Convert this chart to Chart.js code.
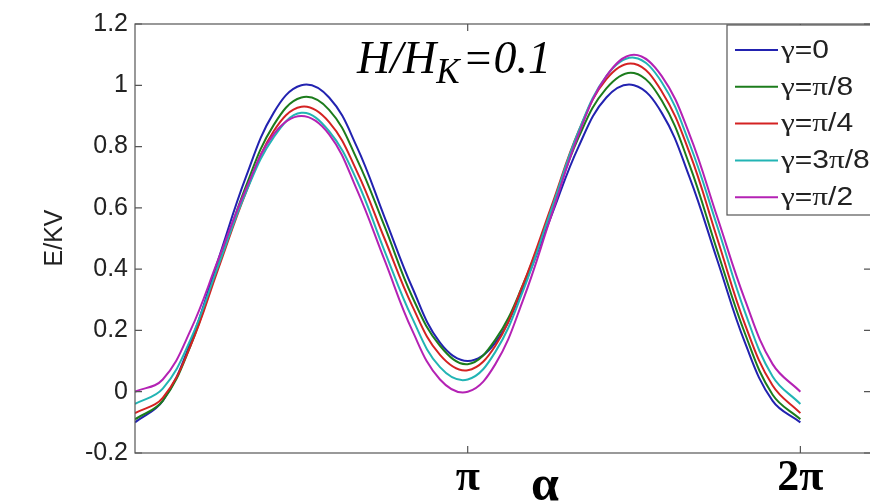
<!DOCTYPE html>
<html>
<head>
<meta charset="utf-8">
<script src="https://cdn.jsdelivr.net/npm/chart.js@4.4.0/dist/chart.umd.min.js"></script>
<style>
  html, body { margin: 0; padding: 0; background: #fff; overflow: hidden; width: 870px; height: 504px; }
  #wrap { width: 880px; height: 504px; }
</style>
</head>
<body>
<div id="wrap"><canvas id="energyChart" width="880" height="504"></canvas></div>
<script>
// alpha in radians, every 15 degrees from 0 to 2*pi
const alpha = [0, 0.262, 0.524, 0.785, 1.047, 1.309, 1.571, 1.833, 2.094, 2.356, 2.618, 2.880,
               3.142, 3.403, 3.665, 3.927, 4.189, 4.451, 4.712, 4.974, 5.236, 5.498, 5.760, 6.021, 6.283];

// E/KV, one array per gamma
const eGamma0    = [-0.10, -0.03, 0.16, 0.43, 0.70, 0.91, 1.00, 0.96, 0.80, 0.57, 0.34, 0.16, 0.10,
                    0.16, 0.34, 0.57, 0.80, 0.96, 1.00, 0.91, 0.70, 0.43, 0.16, -0.03, -0.10];
const eGammaPi8  = [-0.09, -0.03, 0.15, 0.41, 0.67, 0.87, 0.96, 0.92, 0.76, 0.54, 0.31, 0.15, 0.09,
                    0.17, 0.35, 0.59, 0.83, 0.99, 1.04, 0.95, 0.74, 0.46, 0.19, -0.01, -0.09];
const eGammaPi4  = [-0.07, -0.02, 0.15, 0.40, 0.65, 0.85, 0.93, 0.88, 0.72, 0.50, 0.28, 0.12, 0.07,
                    0.15, 0.35, 0.60, 0.85, 1.02, 1.07, 0.98, 0.78, 0.50, 0.22, 0.02, -0.07];
const eGamma3Pi8 = [-0.04, 0.01, 0.17, 0.41, 0.65, 0.83, 0.91, 0.85, 0.69, 0.46, 0.24, 0.08, 0.04,
                    0.13, 0.33, 0.59, 0.85, 1.03, 1.09, 1.01, 0.81, 0.54, 0.26, 0.05, -0.04];
const eGammaPi2  = [0.00, 0.04, 0.20, 0.43, 0.66, 0.84, 0.90, 0.84, 0.66, 0.43, 0.20, 0.04, 0.00,
                    0.09, 0.30, 0.57, 0.84, 1.03, 1.10, 1.03, 0.84, 0.57, 0.30, 0.09, 0.00];

const gammaLabels = ['γ=0', 'γ=π/8', 'γ=π/4', 'γ=3π/8', 'γ=π/2'];
const lineColors = ['#2222b0', '#1c7c1c', '#d42222', '#22b4b4', '#b422b4'];
const xTickValues = [Math.PI, 2 * Math.PI];
const xTickLabels = ['π', '2π'];

const series = [eGamma0, eGammaPi8, eGammaPi4, eGamma3Pi8, eGammaPi2];

// axes box with inward ticks (matlab style)
const framePlugin = {
    id: 'frame',
    afterDatasetsDraw(chart) {
        const { ctx, chartArea: a, scales: { x, y } } = chart;
        ctx.save();
        ctx.strokeStyle = '#555';
        ctx.lineWidth = 1.2;
        ctx.strokeRect(a.left, a.top, a.right - a.left, a.bottom - a.top);
        ctx.beginPath();
        y.ticks.forEach(t => {
            const py = y.getPixelForValue(t.value);
            ctx.moveTo(a.left, py); ctx.lineTo(a.left + 7, py);
            ctx.moveTo(a.right, py); ctx.lineTo(a.right - 7, py);
        });
        x.ticks.forEach(t => {
            const px = x.getPixelForValue(t.value);
            ctx.moveTo(px, a.bottom); ctx.lineTo(px, a.bottom - 7);
            ctx.moveTo(px, a.top); ctx.lineTo(px, a.top + 7);
        });
        ctx.stroke();
        ctx.restore();
    }
};

// greek letters in serif, the rest in sans; text is a bit stretched in the original
function drawMixed(ctx, text, x, y, size, stretch) {
    ctx.save();
    ctx.translate(x, y);
    ctx.scale(stretch, 1);
    let dx = 0;
    for (const ch of text) {
        const greek = /[\u0370-\u03ff]/.test(ch);
        ctx.font = greek ? (size + 1) + 'px "Liberation Serif"' : size + 'px "Liberation Sans"';
        ctx.fillText(ch, dx, 0);
        dx += ctx.measureText(ch).width;
    }
    ctx.restore();
}

const legendBox = {
    id: 'legendBox',
    afterDraw(chart) {
        const { ctx } = chart;
        const left = 727, top = 25, bottom = 215;
        ctx.save();
        ctx.fillStyle = '#fff';
        ctx.fillRect(left, top, 160, bottom - top);
        ctx.strokeStyle = '#555';
        ctx.lineWidth = 1.2;
        ctx.strokeRect(left, top, 160, bottom - top);
        chart.data.datasets.forEach((ds, i) => {
            const cy = 50 + i * 36.8;
            ctx.strokeStyle = ds.borderColor;
            ctx.lineWidth = 2;
            ctx.beginPath();
            ctx.moveTo(735, cy); ctx.lineTo(778, cy);
            ctx.stroke();
            ctx.fillStyle = '#222';
            ctx.textBaseline = 'middle';
            drawMixed(ctx, ds.label, 781, cy + 1, 25, 1.2);
        });
        ctx.restore();
    }
};

const labelsPlugin = {
    id: 'labels',
    afterDraw(chart) {
        const { ctx } = chart;
        ctx.save();
        ctx.fillStyle = '#000';
        ctx.textBaseline = 'alphabetic';
        // title H/H_K=0.1
        ctx.font = 'italic 46px "Liberation Serif"';
        let x = 357;
        ctx.fillText('H/H', x, 73);
        x += ctx.measureText('H/H').width;
        ctx.font = 'italic 35px "Liberation Serif"';
        ctx.fillText('K', x, 83);
        x += ctx.measureText('K').width + 3;
        ctx.font = 'italic 46px "Liberation Serif"';
        ctx.fillText('=0.1', x, 73);
        // x axis title
        ctx.font = 'bold 50px "Liberation Serif"';
        ctx.textAlign = 'center';
        ctx.fillText('α', 545, 500);
        // y axis title
        ctx.translate(62, 238);
        ctx.rotate(-Math.PI / 2);
        ctx.font = '25px "Liberation Sans"';
        ctx.fillStyle = '#222';
        ctx.fillText('E/KV', 0, 0);
        ctx.restore();
    }
};

new Chart(document.getElementById('energyChart'), {
    type: 'line',
    data: {
        datasets: series.map((s, i) => ({
            label: gammaLabels[i],
            data: alpha.map((a, j) => ({ x: a, y: s[j] })),
            borderColor: lineColors[i],
            borderWidth: 2,
            pointRadius: 0,
            tension: 0.4,
            order: series.length - i
        }))
    },
    options: {
        responsive: false,
        animation: false,
        layout: { padding: { top: 24, right: 9, bottom: 0, left: 0 } },
        plugins: {
            legend: { display: false },
            tooltip: { enabled: false }
        },
        scales: {
            x: {
                type: 'linear',
                min: 0,
                max: 6.95,
                grid: { display: false, drawTicks: false },
                border: { display: false },
                afterBuildTicks: scale => {
                    scale.ticks = xTickValues.map(v => ({ value: v }));
                },
                afterFit: scale => { scale.height = 51; },
                ticks: {
                    autoSkip: false,
                    maxRotation: 0,
                    padding: 4,
                    color: '#000',
                    font: { family: 'Liberation Serif', size: 44, weight: 'bold', lineHeight: 1 },
                    callback: (value, index) => xTickLabels[index]
                }
            },
            y: {
                min: -0.2,
                max: 1.2,
                grid: { display: false, drawTicks: false },
                border: { display: false },
                afterFit: scale => { scale.width = 135; },
                ticks: {
                    stepSize: 0.2,
                    padding: 7,
                    color: '#222',
                    font: { family: 'Liberation Sans', size: 25 },
                    callback: value => String(parseFloat(value.toFixed(1)) || 0)
                }
            }
        }
    },
    plugins: [framePlugin, legendBox, labelsPlugin]
});
</script>
</body>
</html>
